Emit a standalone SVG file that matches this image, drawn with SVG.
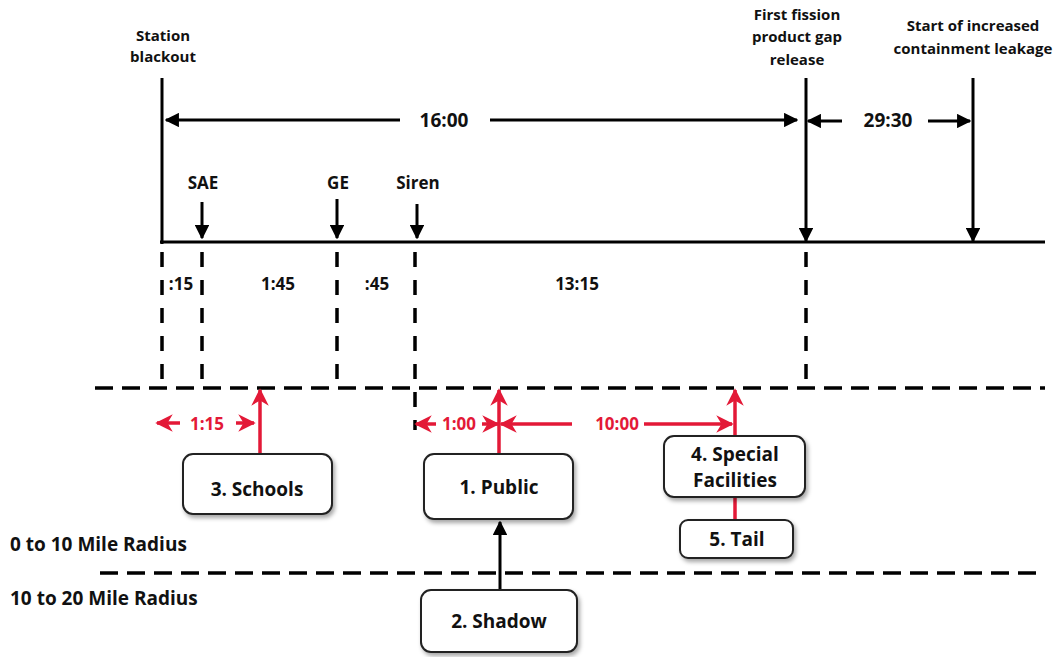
<svg xmlns="http://www.w3.org/2000/svg" width="1053" height="657" viewBox="0 0 1053 657">
<defs>
<marker id="ab" viewBox="0 0 10 10" refX="9" refY="5" markerWidth="4.8" markerHeight="4.8" orient="auto" markerUnits="strokeWidth"><path d="M0,0 L10,5 L0,10 z" fill="#000"/></marker>
<marker id="ar" viewBox="0 0 10 10" refX="9" refY="5" markerWidth="5" markerHeight="5" orient="auto" markerUnits="strokeWidth"><path d="M0,0 L10,5 L0,10 L3,5 z" fill="#e31937"/></marker>
<filter id="sh" x="-10%" y="-10%" width="130%" height="140%"><feDropShadow dx="2" dy="3" stdDeviation="2" flood-color="#000" flood-opacity="0.35"/></filter>
</defs>
<style>
text{font-family:"Open Sans","Liberation Sans",sans-serif;font-weight:bold;fill:#111}
.t{font-size:15px}
.m{font-size:17px}
.b{font-size:19px}
.r{fill:#e31937;font-size:17px}
.s{stroke:#000;stroke-width:3;fill:none}
.a{stroke:#000;stroke-width:3;fill:none;marker-end:url(#ab)}
.dv{stroke:#000;stroke-width:3.5;stroke-dasharray:15 13;fill:none}
.dh{stroke:#000;stroke-width:3.5;stroke-dasharray:18 9;fill:none}
.ra{stroke:#e31937;stroke-width:3.5;fill:none;marker-end:url(#ar)}
.rl{stroke:#e31937;stroke-width:3.5;fill:none}
.box{fill:#fff;stroke:#222;stroke-width:2;filter:url(#sh)}
</style>
<rect width="1053" height="657" fill="#fff"/>
<g id="connectors">
<line class="s" x1="162" y1="78" x2="162" y2="244"/>
<line class="s" x1="160" y1="242" x2="1045" y2="242"/>
<line class="a" x1="806" y1="78" x2="806" y2="241"/>
<line class="a" x1="973" y1="78" x2="973" y2="241"/>
<line class="a" x1="400" y1="120" x2="166" y2="120"/>
<line class="a" x1="490" y1="120" x2="797" y2="120"/>
<line class="a" x1="842" y1="121" x2="808" y2="121"/>
<line class="a" x1="928" y1="121" x2="970" y2="121"/>
<line class="a" x1="202" y1="202" x2="202" y2="238"/>
<line class="a" x1="337" y1="199" x2="337" y2="238"/>
<line class="a" x1="417" y1="204" x2="417" y2="238"/>
<line class="dv" x1="162" y1="252" x2="162" y2="385"/>
<line class="dv" x1="202" y1="252" x2="202" y2="385"/>
<line class="dv" x1="337" y1="252" x2="337" y2="385"/>
<line class="dv" x1="415" y1="252" x2="415" y2="430"/>
<line class="dv" x1="806" y1="252" x2="806" y2="385"/>
<line class="dh" x1="95" y1="388" x2="1045" y2="388"/>
<line class="dh" x1="100" y1="573" x2="1045" y2="573"/>
<line class="ra" x1="180" y1="423" x2="157" y2="423"/>
<line class="ra" x1="236" y1="423" x2="254" y2="423"/>
<line class="ra" x1="260" y1="454" x2="260" y2="390"/>
<line class="ra" x1="436" y1="424" x2="416" y2="424"/>
<line class="ra" x1="482" y1="424" x2="498" y2="424"/>
<line class="ra" x1="499" y1="454" x2="499" y2="390"/>
<line class="ra" x1="572" y1="424" x2="501" y2="424"/>
<line class="ra" x1="644" y1="424" x2="732" y2="424"/>
<line class="ra" x1="735" y1="435" x2="735" y2="390"/>
<line class="rl" x1="735" y1="497" x2="735" y2="520"/>
<line class="a" x1="500" y1="590" x2="500" y2="522"/>
</g>
<g id="labels">
<text class="t" x="163" y="41" text-anchor="middle">Station</text>
<text class="t" x="163" y="62" text-anchor="middle">blackout</text>
<text class="t" x="797" y="20" text-anchor="middle">First fission</text>
<text class="t" x="797" y="42" text-anchor="middle">product gap</text>
<text class="t" x="797" y="65" text-anchor="middle">release</text>
<text class="t" x="973" y="31" text-anchor="middle">Start of increased</text>
<text class="t" x="973" y="54" text-anchor="middle">containment leakage</text>
<text class="b" x="444" y="127" text-anchor="middle">16:00</text>
<text class="b" x="888" y="127" text-anchor="middle">29:30</text>
<text class="m" x="203" y="189" text-anchor="middle">SAE</text>
<text class="m" x="338" y="189" text-anchor="middle">GE</text>
<text class="m" x="418" y="189" text-anchor="middle">Siren</text>
<text class="m" x="181" y="290" text-anchor="middle">:15</text>
<text class="m" x="278" y="290" text-anchor="middle">1:45</text>
<text class="m" x="377" y="290" text-anchor="middle">:45</text>
<text class="m" x="577" y="290" text-anchor="middle">13:15</text>
<text class="r" x="207" y="430" text-anchor="middle">1:15</text>
<text class="r" x="459" y="430" text-anchor="middle">1:00</text>
<text class="r" x="617" y="430" text-anchor="middle">10:00</text>
<text class="b" x="10" y="551">0 to 10 Mile Radius</text>
<text class="b" x="10" y="605">10 to 20 Mile Radius</text>
</g>
<g id="schools"><rect class="box" x="183" y="454" width="149" height="60" rx="10"/><text class="b" x="257" y="496" text-anchor="middle">3. Schools</text></g>
<g id="public"><rect class="box" x="424" y="454" width="149" height="65" rx="10"/><text class="b" x="499" y="494" text-anchor="middle">1. Public</text></g>
<g id="special"><rect class="box" x="664" y="436" width="141" height="61" rx="10"/><text class="b" x="735" y="461" text-anchor="middle">4. Special</text><text class="b" x="735" y="487" text-anchor="middle">Facilities</text></g>
<g id="tail"><rect class="box" x="680" y="520" width="113" height="38" rx="8"/><text class="b" x="737" y="546" text-anchor="middle">5. Tail</text></g>
<g id="shadow"><rect class="box" x="421" y="590" width="156" height="62" rx="10"/><text class="b" x="499" y="628" text-anchor="middle">2. Shadow</text></g>
</svg>
